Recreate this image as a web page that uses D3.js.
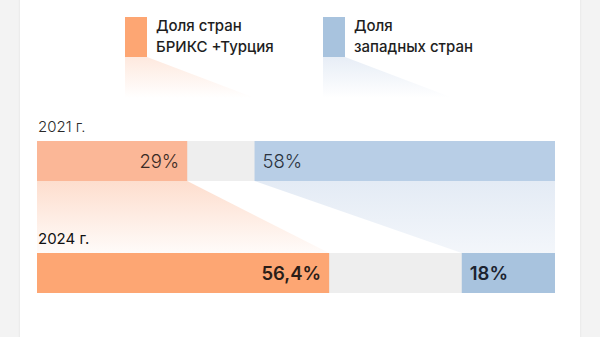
<!DOCTYPE html>
<html>
<head>
<meta charset="utf-8">
<script src="https://cdn.jsdelivr.net/npm/d3@7/dist/d3.min.js"></script>
<style>
  html, body { margin: 0; padding: 0; background: #f3f3f3; }
  svg { display: block; font-family: Inter, Roboto, "Noto Sans", sans-serif; }
</style>
</head>
<body>
<svg id="chart" width="600" height="337"></svg>
<script>
// Shares of world trade, percent
const years = ["2021 г.", "2024 г."];
const bricsShare = [29, 56.4];
const westShare = [58, 18];
const legendLabels = [["Доля стран", "БРИКС +Турция"], ["Доля", "западных стран"]];

const W = 600, H = 337;
const svg = d3.select("#chart");
const defs = svg.append("defs");

const colors = {
  brics: ["#fbb797", "#fda673"],
  west: ["#b8cee6", "#a8c3de"],
  rest: "#eeeeee"
};

// card
defs.append("filter").attr("id", "cardShadow").attr("x", "-5%").attr("width", "110%")
  .append("feDropShadow").attr("dx", 0).attr("dy", 0).attr("stdDeviation", 1.2)
  .attr("flood-color", "#000").attr("flood-opacity", 0.08);
svg.append("rect").attr("x", 20).attr("y", -10).attr("width", 560).attr("height", H + 20)
  .attr("fill", "#fff").attr("filter", "url(#cardShadow)");

const x = d3.scaleLinear().domain([0, 100]).range([37, 555]);
const y = d3.scalePoint().domain(years).range([141, 253]);
const barH = 40;

const fmt = v => String(v).replace(".", ",") + "%";

// gradients
function vGrad(id, color, o1, o2) {
  const g = defs.append("linearGradient").attr("id", id)
    .attr("x1", 0).attr("y1", 0).attr("x2", 0).attr("y2", 1);
  g.append("stop").attr("offset", "0%").attr("stop-color", color).attr("stop-opacity", o1);
  g.append("stop").attr("offset", "100%").attr("stop-color", color).attr("stop-opacity", o2);
}
vGrad("flowBrics", "#fbb08a", 0.42, 0.05);
vGrad("flowWest", "#a9c0df", 0.32, 0.14);
vGrad("legBrics", "#fbb08a", 0.28, 0);
vGrad("legWest", "#a9c0df", 0.28, 0);

// flows between years
const y0 = y(years[0]) + barH, y1 = y(years[1]);
svg.append("path")
  .attr("d", `M${x(0)},${y0}L${x(bricsShare[0])},${y0}L${x(bricsShare[1])},${y1}L${x(0)},${y1}Z`)
  .attr("fill", "url(#flowBrics)");
svg.append("path")
  .attr("d", `M${x(100 - westShare[0])},${y0}L${x(100)},${y0}L${x(100)},${y1}L${x(100 - westShare[1])},${y1}Z`)
  .attr("fill", "url(#flowWest)");

// legend
const legend = [
  { x: 125, color: colors.brics[1], grad: "legBrics", lines: legendLabels[0] },
  { x: 323, color: colors.west[1], grad: "legWest", lines: legendLabels[1] }
];
const lg = svg.selectAll(".legend").data(legend).join("g").attr("class", "legend");
lg.append("path")
  .attr("d", d => `M${d.x},57L${d.x + 22},57L${d.x + 130},98L${d.x},98Z`)
  .attr("fill", d => `url(#${d.grad})`);
lg.append("rect").attr("x", d => d.x).attr("y", 17).attr("width", 22).attr("height", 40)
  .attr("fill", d => d.color);
lg.append("text").attr("x", d => d.x + 31).attr("y", 31)
  .attr("font-size", 15).attr("font-weight", 500).attr("fill", "#1e1e1e")
  .selectAll("tspan").data(d => d.lines).join("tspan")
  .attr("x", function() { return d3.select(this.parentNode).attr("x"); })
  .attr("dy", (d, i) => i === 0 ? 0 : 21)
  .text(d => d);

// bars
years.forEach((yr, i) => {
  const top = y(yr);
  const bold = i === 1;
  svg.append("rect").attr("x", x(0)).attr("y", top).attr("width", x(100) - x(0)).attr("height", barH)
    .attr("fill", colors.rest);
  svg.append("rect").attr("x", x(0)).attr("y", top).attr("width", x(bricsShare[i]) - x(0)).attr("height", barH)
    .attr("fill", colors.brics[i]);
  svg.append("rect").attr("x", x(100 - westShare[i])).attr("y", top)
    .attr("width", x(100) - x(100 - westShare[i])).attr("height", barH)
    .attr("fill", colors.west[i]);

  svg.append("text").attr("x", 38).attr("y", top - 9)
    .attr("font-size", 15).attr("font-weight", bold ? 400 : 300).attr("fill", bold ? "#111" : "#2a2a2a")
    .text(yr);

  svg.append("text").attr("x", x(bricsShare[i]) - 8).attr("y", top + 27)
    .attr("text-anchor", "end").attr("font-size", 18.5).attr("font-weight", bold ? 600 : 300)
    .attr("fill", bold ? "#2a1d18" : "#3a2a24")
    .text(fmt(bricsShare[i]));
  svg.append("text").attr("x", x(100 - westShare[i]) + 8).attr("y", top + 27)
    .attr("font-size", 18.5).attr("font-weight", bold ? 600 : 300)
    .attr("fill", bold ? "#1c2330" : "#2a3340")
    .text(fmt(westShare[i]));
});
</script>
</body>
</html>
